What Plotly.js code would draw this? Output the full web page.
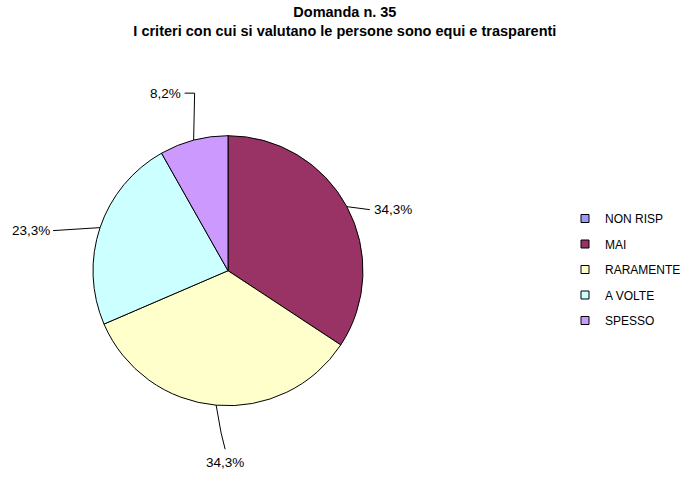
<!DOCTYPE html>
<html>
<head>
<meta charset="utf-8">
<script src="https://cdn.plot.ly/plotly-3.0.1.min.js"></script>
<style>html,body{margin:0;padding:0;background:#fff;}#chart{width:687px;height:478px;}</style>
</head>
<body>
<div id="chart"></div>
<script>
// ---- data ----
const categories = ['NON RISP', 'MAI', 'RARAMENTE', 'A VOLTE', 'SPESSO'];
const values = [0, 34.3, 34.3, 23.3, 8.2];
const colors = ['#9999FF', '#993366', '#FFFFCC', '#CCFFFF', '#CC99FF'];
const chartTitle = 'Domanda n. 35<br>I criteri con cui si valutano le persone sono equi e trasparenti';

// ---- layout geometry (pixels) ----
const W = 687, H = 478;
const cx = 228, cy = 270.7, R = 135;
const FONT = 'Liberation Sans, Arial, sans-serif';
// leader-line bends relative to the slice edge point (styling), last point is label anchor
const leader = {
  'MAI':       {pts: [[23, 3]], xanchor: 'left', dx: 2, dy: 0},
  'RARAMENTE': {pts: [[5, 28], [9, 44]], xanchor: 'center', dx: 0, dy: 13},
  'A VOLTE':   {pts: [[-47, 3]], xanchor: 'right', dx: -1, dy: 0},
  'SPESSO':    {pts: [[1, -47], [-9, -47]], xanchor: 'right', dx: -2, dy: 0}
};

const px = x => x / W;
const py = y => 1 - y / H;

const total = values.reduce((a, b) => a + b, 0);
const shapes = [], annotations = [];
let cum = 0;
values.forEach((v, i) => {
  const start = cum; cum += v;
  if (v <= 0) return;
  const mid = (start + v / 2) / total * 2 * Math.PI; // clockwise from top
  const ex = cx + R * Math.sin(mid), ey = cy - R * Math.cos(mid);
  const L = leader[categories[i]];
  let path = `M${px(ex)},${py(ey)}`;
  let lx = ex, ly = ey;
  L.pts.forEach(p => { lx = ex + p[0]; ly = ey + p[1]; path += ` L${px(lx)},${py(ly)}`; });
  shapes.push({type: 'path', xref: 'paper', yref: 'paper', path: path, line: {color: '#000', width: 1}});
  annotations.push({
    xref: 'paper', yref: 'paper', x: px(lx + L.dx), y: py(ly + L.dy),
    xanchor: L.xanchor, yanchor: 'middle', showarrow: false,
    text: v.toFixed(1).replace('.', ',') + '%',
    font: {family: FONT, size: 13.5, color: '#000'}
  });
});

const pie = {
  type: 'pie', labels: categories, values: values, sort: false,
  direction: 'clockwise', rotation: 0, textinfo: 'none', hoverinfo: 'label+percent',
  marker: {colors: colors, line: {color: '#000', width: 1}},
  domain: {x: [px(cx - R), px(cx + R)], y: [py(cy + R), py(cy - R)]},
  showlegend: false
};

const legendTraces = categories.map((c, i) => ({
  type: 'scatter', mode: 'markers', x: [null], y: [null], name: c, legendgroup: c,
  marker: {symbol: 'square', size: 8, color: colors[i], line: {color: '#000', width: 1}},
  showlegend: true, hoverinfo: 'skip'
}));

const layout = {
  width: W, height: H,
  margin: {l: 0, r: 0, t: 0, b: 0},
  paper_bgcolor: '#fff', plot_bgcolor: '#fff',
  title: {text: chartTitle, x: 0.502, xanchor: 'center', xref: 'paper', y: 1 - 17 / H, yref: 'container', yanchor: 'middle',
          font: {family: FONT, size: 14.5, color: '#000', weight: 'bold'}},
  xaxis: {visible: false}, yaxis: {visible: false},
  showlegend: true,
  legend: {x: px(565), xanchor: 'left', y: py(204), yanchor: 'top', traceorder: 'grouped', tracegroupgap: 6.5,
           font: {family: FONT, size: 12, color: '#000'}, bgcolor: 'rgba(0,0,0,0)', itemclick: false},
  shapes: shapes, annotations: annotations
};

Plotly.newPlot('chart', [pie].concat(legendTraces), layout, {displayModeBar: false, staticPlot: true});
</script>
</body>
</html>
